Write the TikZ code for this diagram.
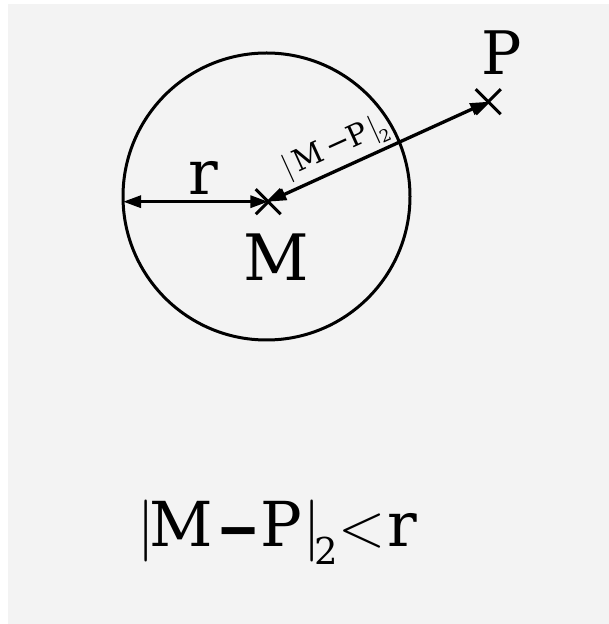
\documentclass[tikz,border=0pt]{standalone}
\usepackage{fontspec}
\setmainfont{DejaVu Serif}
\newfontfamily\lmr{Latin Modern Roman}
\usetikzlibrary{arrows.meta}
\definecolor{bgc}{HTML}{F3F3F3}
\tikzset{
  lbl/.style={inner sep=0pt, anchor=base, font=\fontsize{62}{70}\selectfont},
  conn/.style={line width=3.3pt, {Triangle[length=18pt,width=12pt]}-{Triangle[length=18pt,width=12pt]}},
  crossline/.style={line width=3pt},
  ring/.style={line width=3pt}
}
\newcommand{\gl}[1]{\makebox[0pt][c]{#1}}
\newcommand{\xmark}[1]{%
  \draw[crossline] ([shift={(-12.5pt,-12.5pt)}]#1) -- ([shift={(12.5pt,12.5pt)}]#1);
  \draw[crossline] ([shift={(-12.5pt,12.5pt)}]#1) -- ([shift={(12.5pt,-12.5pt)}]#1);}
\begin{document}
\begin{tikzpicture}[x=1pt,y=1pt]
\useasboundingbox (0,0) rectangle (609,624);
\fill[bgc] (8,0) rectangle (609,620);
\coordinate (C) at (266.5,427.5);
\coordinate (M) at (268.3,422.3);
\coordinate (P) at (488.3,522.3);
\coordinate (L) at (123.1,422.3);
\draw[ring] (C) circle[radius=143.5pt];
\xmark{M}
\xmark{P}
\draw[conn] (L) -- (M);
\draw[conn] (M) -- (P);
\node[lbl] (rl) at (203,429.7) {r};
\node[lbl, font=\fontsize{64}{70}\selectfont] (ml) at (276,343) {M};
\node[lbl, font=\fontsize{60}{70}\selectfont] (pl) at (502,549) {P};
\node[inner sep=0pt, anchor=base west, rotate=24.44, font=\fontsize{30}{32}\selectfont] (dl) at (291.4,448.2)
  {\gl{\lmr|}\hspace{22.7pt}\gl{M}\hspace{33pt}\gl{−}\hspace{21pt}\gl{P}\hspace{18pt}\gl{\lmr|}\hspace{7pt}\gl{\raisebox{-8.5pt}{\fontsize{17}{20}\selectfont 2}}\hspace{6pt}};
\node[inner sep=0pt, anchor=base west, font=\fontsize{62}{70}\selectfont] (fl) at (146,77.3)
  {\gl{\lmr|}\hspace{35pt}\gl{M}\hspace{57.5pt}\gl{\raisebox{-4pt}{\scalebox{0.85}[1]{\bfseries −}}}\hspace{43pt}\gl{P}\hspace{30.5pt}\gl{\lmr|}\hspace{14.5pt}\gl{\raisebox{-18.3pt}{\fontsize{37}{40}\selectfont 2}}\hspace{35pt}\gl{\lmr<}\hspace{40.5pt}\gl{r}\hspace{15pt}};
\end{tikzpicture}
\end{document}
